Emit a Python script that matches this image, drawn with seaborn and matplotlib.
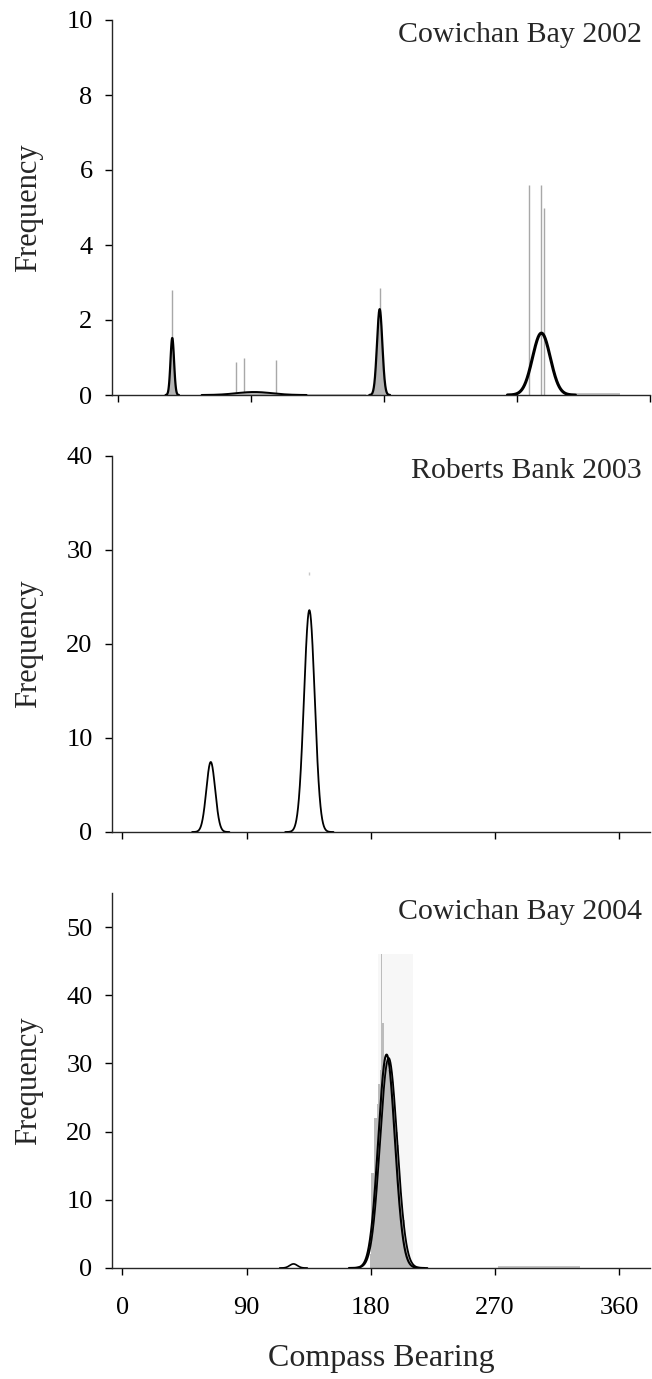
import numpy as np
import pandas as pd
import matplotlib
matplotlib.use("Agg")
import matplotlib.pyplot as plt
import seaborn as sns

sns.set_style("ticks")
plt.rcParams['font.family'] = ['Liberation Serif', 'DejaVu Serif']

# ---------------- data ----------------
bearing_ticks = [0, 90, 180, 270, 360]
titles = ["Cowichan Bay 2002", "Roberts Bank 2003", "Cowichan Bay 2004"]
y_tops = [10, 40, 55]
y_ticks = [[0, 2, 4, 6, 8, 10], [0, 10, 20, 30, 40], [0, 10, 20, 30, 40, 50]]

# fitted normal components: mean bearing, peak frequency, spread (deg)
cb02_mean = [36.6, 92.0, 177.0, 286.5]
cb02_peak = [1.52, 0.08, 2.29, 1.65]
cb02_sd = [1.2, 12.0, 1.8, 6.0]
cb02_filled = [True, True, True, False]
# observed histogram bars (thin)
cb02_bar_x = [36.6, 79.7, 85.0, 107.0, 177.0, 278.0, 286.3, 288.5]
cb02_bar_h = [2.8, 0.88, 0.98, 0.93, 2.85, 5.6, 5.6, 5.0]
cb02_low_x = [112.5, 122.5, 132.5, 142.5, 152.5, 162.5, 315, 325, 335]
cb02_low_h = [0.04, 0.04, 0.04, 0.04, 0.04, 0.04, 0.06, 0.06, 0.06]

rb03_mean = [64.0, 135.5]
rb03_peak = [7.45, 23.6]
rb03_sd = [3.2, 3.9]
rb03_bar_x = [135.5]
rb03_bar_h = [27.7]

cb04_mean = [124.0, 191.5, 193.0]
cb04_peak = [0.6, 31.3, 30.8]
cb04_sd = [2.8, 6.0, 6.2]
cb04_bin_x = list(range(180, 211))
cb04_bin_h = [2, 14, 14, 22, 22, 24, 27, 29, 46, 36, 31, 30, 30, 29, 30, 29,
              27, 25, 21, 20, 18, 14, 11, 9, 7, 5, 3.5, 2.5, 1.5, 1, 0.5]
cb04_band_x = [198.0]
cb04_band_w = [26.0]
cb04_band_h = [46.0]
cb04_low_x = [277, 287, 297, 307, 317, 327]
cb04_low_h = [0.25, 0.25, 0.25, 0.25, 0.25, 0.25]

# ---------------- figure ----------------
W, H = 652, 1379
fig = plt.figure(figsize=(W / 100, H / 100), dpi=100)

def ax_at(left, right, top, bottom):
    return fig.add_axes([left / W, 1 - bottom / H, (right - left) / W, (bottom - top) / H])

ax1 = ax_at(112, 650, 20, 395)
ax2 = ax_at(112, 650, 456, 832)
ax3 = ax_at(112, 650, 893, 1268)

grid = np.arange(-10, 390, 0.1)

def draw_curves(ax, means, peaks, sds, filled, lws):
    for m, p, s, f, lw in zip(means, peaks, sds, filled, lws):
        y = p * np.exp(-0.5 * ((grid - m) / s) ** 2)
        mask = y > 1e-3
        if f:
            ax.fill_between(grid[mask], 0, y[mask], color="#b4b4b4", lw=0, zorder=2)
        df = pd.DataFrame({"b": grid[mask], "f": y[mask]})
        sns.lineplot(data=df, x="b", y="f", ax=ax, color="black", lw=lw, zorder=4,
                     estimator=None, sort=False)

# panel 1
ax1.vlines(cb02_bar_x, 0, cb02_bar_h, color="#a8a8a8", lw=1.0, zorder=1)
ax1.bar(cb02_low_x, cb02_low_h, width=10, color="#c4c4c4", lw=0, zorder=1)
draw_curves(ax1, cb02_mean, cb02_peak, cb02_sd, cb02_filled, [1.6, 1.4, 1.6, 2.2])
ax1.set_xlim(-4.2, 347)

# panel 2
ax2.vlines(rb03_bar_x, np.array(rb03_bar_h) - 0.4, rb03_bar_h, color="#c8c8c8", lw=1.0)
draw_curves(ax2, rb03_mean, rb03_peak, rb03_sd, [False] * 2, [1.3, 1.3])
ax2.set_xlim(-7.6, 382.5)

# panel 3
ax3.bar(cb04_band_x, cb04_band_h, width=cb04_band_w, color="#f7f7f7", lw=0, zorder=0)
ax3.bar(cb04_bin_x, cb04_bin_h, width=1.0, color="#bcbcbc", lw=0, zorder=1)
ax3.bar(cb04_low_x, cb04_low_h, width=10, color="#c4c4c4", lw=0, zorder=1)
draw_curves(ax3, cb04_mean, cb04_peak, cb04_sd, [False] * 3, [1.2, 1.5, 1.3])
ax3.set_xlim(-7.6, 382.5)

for ax, t, yt, yl in zip([ax1, ax2, ax3], titles, y_tops, y_ticks):
    ax.set_ylim(0, yt)
    ax.set_yticks(yl)
    ax.set_xticks(bearing_ticks)
    sns.despine(ax=ax)
    ax.spines["left"].set_linewidth(1.0)
    ax.spines["bottom"].set_linewidth(1.0)
    ax.tick_params(axis="both", direction="out", length=5, width=1.0,
                   labelsize=19, pad=9, colors="black")
    ax.set_ylabel("Frequency", fontsize=22)
    ax.yaxis.set_label_coords(-0.128, 0.5)
    ax.set_xlabel("")
    ax.text(0.985, 0.96 if ax is not ax3 else 0.95, t, transform=ax.transAxes,
            ha="right", va="center", fontsize=21.5)

ax1.tick_params(axis="x", labelbottom=False)
ax2.tick_params(axis="x", labelbottom=False)
ax3.tick_params(axis="x", pad=16)
ax3.set_xlabel("Compass Bearing", fontsize=23, labelpad=18)

fig.savefig("out.png", dpi=100)
